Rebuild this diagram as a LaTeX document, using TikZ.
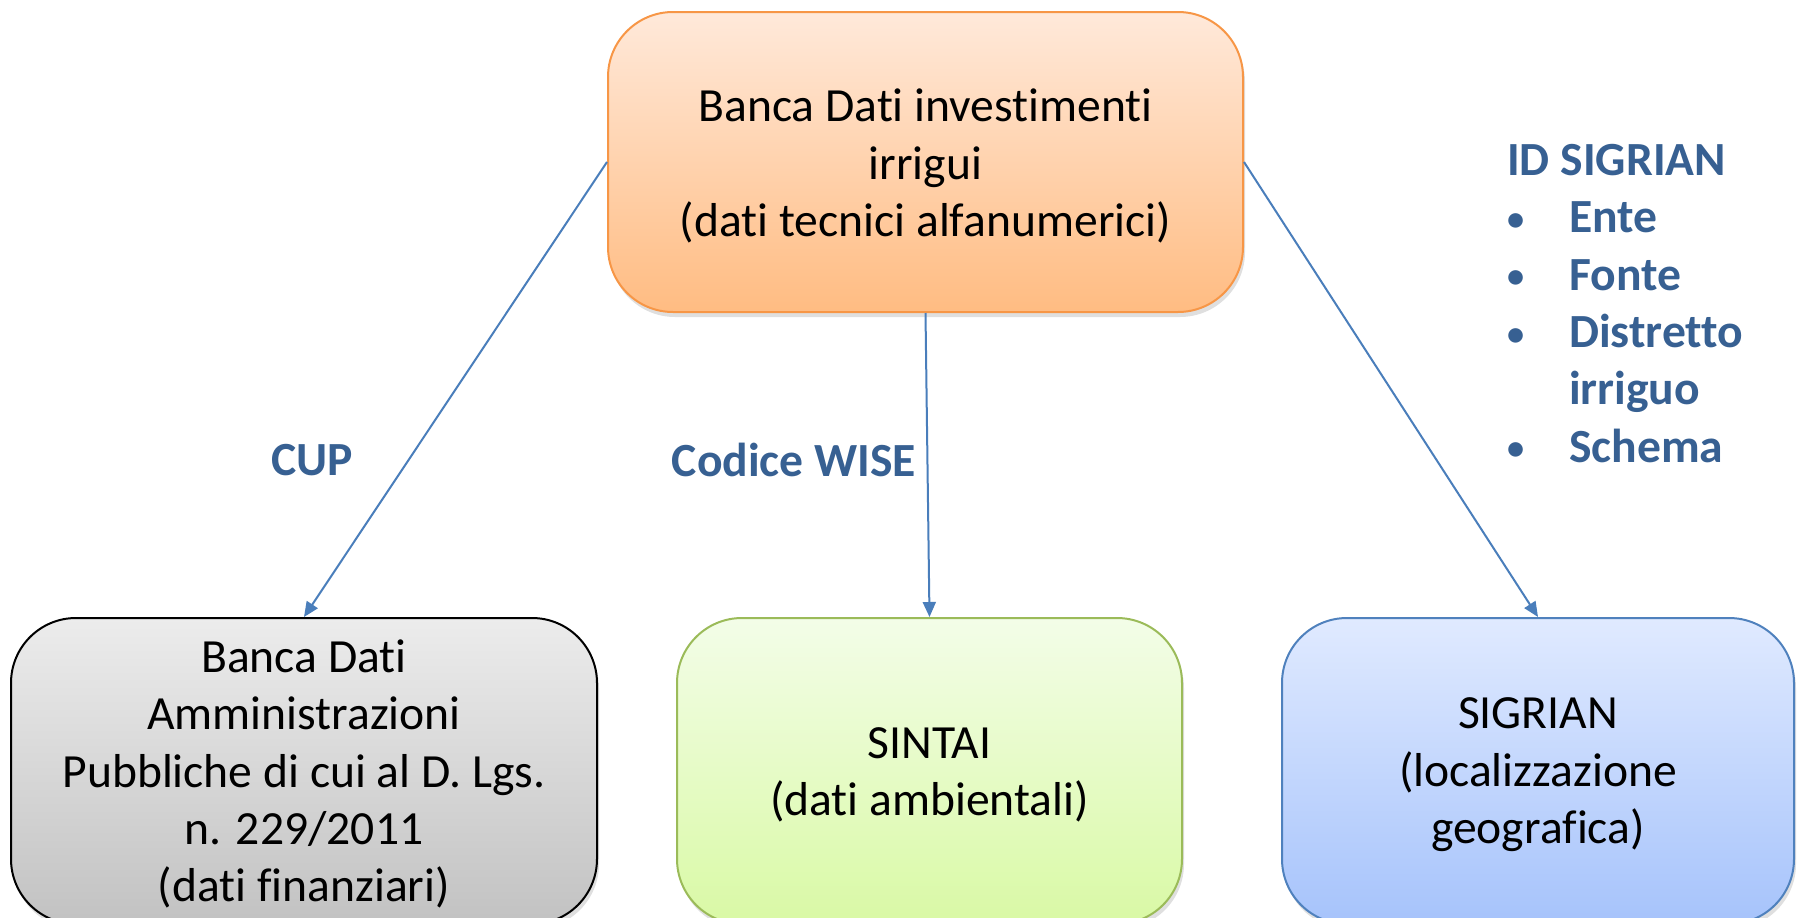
\documentclass[tikz,border=0pt]{standalone}
\usepackage{fontspec}
\setmainfont[RawFeature={-liga;-clig;-dlig;-calt}]{Carlito}
\usetikzlibrary{arrows.meta,shadows}
\definecolor{arrowblue}{HTML}{4A7EBB}
\definecolor{labelblue}{HTML}{376092}
\definecolor{orTop}{HTML}{FFE9DA}
\definecolor{orBot}{HTML}{FFBC82}
\definecolor{orLine}{HTML}{F79646}
\definecolor{grTop}{HTML}{ECECEC}
\definecolor{grBot}{HTML}{C2C2C2}
\definecolor{gnTop}{HTML}{F3FDE8}
\definecolor{gnBot}{HTML}{D9F9A5}
\definecolor{gnLine}{HTML}{9BBB59}
\definecolor{blTop}{HTML}{E0EAFF}
\definecolor{blBot}{HTML}{A6C3FB}
\definecolor{blLine}{HTML}{4F81BD}
\newcommand{\smbullet}{\raisebox{2.5pt}{\scalebox{0.72}{\textbullet}}}
\tikzset{
  boxstyle/.style={rectangle, rounded corners=65pt, line width=2pt,
    inner sep=0pt,
    drop shadow={opacity=0.25, shadow xshift=2pt, shadow yshift=-5pt}},
  boxtext/.style={align=center, inner sep=0pt, font=\fontsize{47.6}{57.4}\selectfont},
  connector/.style={draw=arrowblue, line width=2pt, -{Triangle[length=15pt,width=13pt]}},
  lbl/.style={text=labelblue, font=\fontsize{47.6}{57.4}\selectfont\bfseries, inner sep=0pt}
}
\begin{document}
\begin{tikzpicture}[x=1pt,y=-1pt]
\useasboundingbox (0,0) rectangle (1800,918);
\clip (0,0) rectangle (1800,918);
\node[boxstyle, draw=orLine, top color=orTop, bottom color=orBot,
  minimum width=635pt, minimum height=300pt] (top) at (925.5,162) {};
\node[boxstyle, draw=black, top color=grTop, bottom color=grBot,
  minimum width=586pt, minimum height=306pt] (gray) at (304,771) {};
\node[boxstyle, draw=gnLine, top color=gnTop, bottom color=gnBot,
  minimum width=505pt, minimum height=306pt] (green) at (929.5,771) {};
\node[boxstyle, draw=blLine, top color=blTop, bottom color=blBot,
  minimum width=512pt, minimum height=306pt] (blue) at (1538,771) {};
\node[boxtext] (topT) at ([yshift=-4pt]top.center)
  {Banca Dati investimenti\\irrigui\\(dati tecnici alfanumerici)};
\node[boxtext] (grayT) at ([yshift=-3pt]gray.center)
  {Banca Dati\\Amministrazioni\\Pubbliche di cui al D. Lgs.\\n. 229/2011\\(dati finanziari)};
\node[boxtext] (greenT) at ([yshift=-4pt]green.center)
  {SINTAI\\(dati ambientali)};
\node[boxtext] (blueT) at ([yshift=-4pt]blue.center)
  {SIGRIAN\\(localizzazione\\geografica)};
\draw[connector] (top.west) -- (gray.north);
\draw[connector] (top.south) -- (green.north);
\draw[connector] (top.east) -- (blue.north);
\node[lbl] (cup) at (312,460) {CUP};
\node[lbl] (wise) at (794,460) {Codice WISE};
\node[lbl, anchor=north west] (idsig) at (1507,135)
  {\begin{tabular}{@{}p{62pt}@{}l@{}}
   \multicolumn{2}{@{}l@{}}{ID SIGRIAN}\\
   \smbullet & Ente\\
   \smbullet & Fonte\\
   \smbullet & Distretto\\
             & irriguo\\
   \smbullet & Schema
   \end{tabular}};
\end{tikzpicture}
\end{document}
